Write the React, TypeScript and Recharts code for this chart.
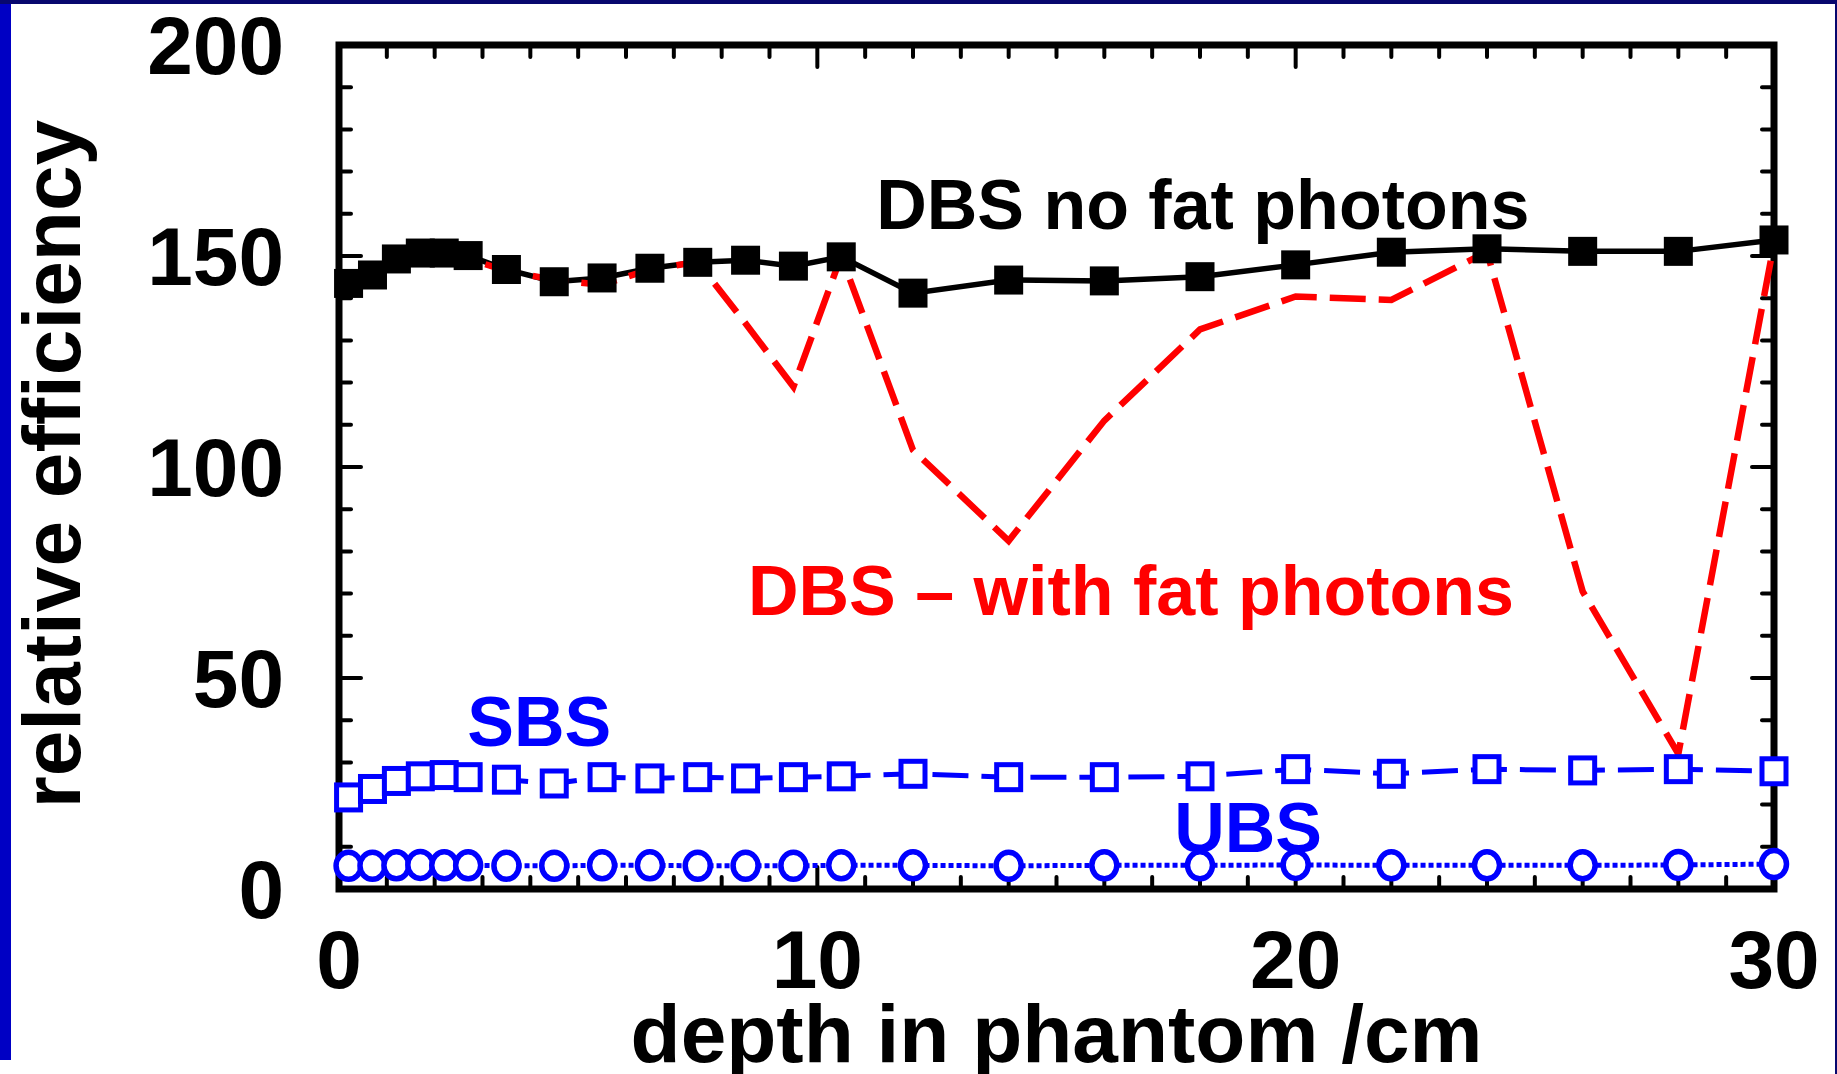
import React from 'react';
import { LineChart, Line, XAxis, YAxis, ReferenceArea, ReferenceLine, ReferenceDot, Label } from 'recharts';

const FONT = '"Liberation Sans", Arial, Helvetica, sans-serif';

// ---- data ----
const depth = [0.2, 0.7, 1.2, 1.7, 2.2, 2.7, 3.5, 4.5, 5.5, 6.5, 7.5, 8.5, 9.5, 10.5, 12, 14, 16, 18, 20, 22, 24, 26, 28, 30];
const dbsNoFat = [143.5, 145.5, 149.3, 150.7, 150.7, 150.1, 146.8, 143.9, 144.8, 147.1, 148.5, 149.0, 147.6, 149.8, 141.2, 144.3, 144.1, 145.1, 147.9, 150.9, 151.7, 151.1, 151.1, 153.8];
const dbsWithFat = [143.6, 146.0, 149.8, 151.5, 151.3, 149.3, 146.5, 144.3, 143.2, 146.8, 148.6, 134, 119, 150, 104, 82.5, 111, 132.6, 140.4, 139.6, 151.0, 70.5, 32, 153];
const sbs = [21.7, 23.7, 25.6, 26.7, 27.0, 26.5, 25.9, 25.0, 26.5, 26.2, 26.5, 26.2, 26.5, 26.7, 27.3, 26.5, 26.5, 26.7, 28.4, 27.3, 28.4, 28.1, 28.4, 27.9];
const ubs = [5.5, 5.5, 5.6, 5.7, 5.6, 5.6, 5.5, 5.5, 5.6, 5.6, 5.5, 5.5, 5.5, 5.6, 5.6, 5.5, 5.6, 5.6, 5.7, 5.6, 5.6, 5.6, 5.7, 5.9];

const xTicks = [0, 10, 20, 30];
const yTicks = [0, 50, 100, 150, 200];
const xMinorTicks = [1, 2, 3, 4, 5, 6, 7, 8, 9, 10, 11, 12, 13, 14, 15, 16, 17, 18, 19, 20, 21, 22, 23, 24, 25, 26, 27, 28, 29];
const yMinorTicks = [10, 20, 30, 40, 50, 60, 70, 80, 90, 100, 110, 120, 130, 140, 150, 160, 170, 180, 190];

const annotations = [
  { text: 'DBS no fat photons', x: 11.23, y: 156.4, color: '#000000' },
  { text: 'DBS \u2013 with fat photons', x: 8.55, y: 64.9, color: '#ff0000' },
  { text: 'SBS', x: 2.68, y: 33.9, color: '#0000ff' },
  { text: 'UBS', x: 17.46, y: 8.8, color: '#0000ff' },
];

// ---- layout ----
const W = 1837;
const H = 1074;
const M = { top: 45, right: 63, bottom: 0, left: 0 };
const Y_AXIS_W = 339;
const X_AXIS_H = 185;
const plotW = W - M.left - M.right - Y_AXIS_W;
const plotH = H - M.top - M.bottom - X_AXIS_H;
const X_MIN = 0, X_MAX = 30, Y_MIN = 0, Y_MAX = 200;
const xPerPx = (X_MAX - X_MIN) / plotW;
const yPerPx = (Y_MAX - Y_MIN) / plotH;
const MINOR_LEN = 12;
const MAJOR_LEN = 22;

const data = depth.map((d, i) => ({
  depth: d,
  dbsNoFat: dbsNoFat[i],
  dbsWithFat: dbsWithFat[i],
  sbs: sbs[i],
  ubs: ubs[i],
}));

const XTick = (props: any) => {
  const { x, y, payload } = props;
  return (
    <text x={x} y={y + 99} textAnchor="middle" fontSize={82} fontWeight="bold" fontFamily={FONT} fill="#000">
      {payload.value}
    </text>
  );
};

const YTick = (props: any) => {
  const { x, y, payload } = props;
  return (
    <text x={x - 55} y={y + 29} textAnchor="end" fontSize={82} fontWeight="bold" fontFamily={FONT} fill="#000">
      {payload.value}
    </text>
  );
};

const filledSquare = (p: any) => (
  <rect key={`fs-${p.index}`} x={p.cx - 14.5} y={p.cy - 14.5} width={29} height={29} fill="#000" />
);
const openSquare = (p: any) => (
  <rect key={`os-${p.index}`} x={p.cx - 12} y={p.cy - 12.5} width={24} height={25} fill="#fff" stroke="#0000ff" strokeWidth={5} />
);
const openCircle = (p: any) => (
  <ellipse key={`oc-${p.index}`} cx={p.cx} cy={p.cy} rx={12.5} ry={13.5} fill="#fff" stroke="#0000ff" strokeWidth={5.5} />
);

const tickLines = [
  ...xMinorTicks.flatMap((t) => {
    const len = (xTicks.includes(t) ? MAJOR_LEN : MINOR_LEN) * yPerPx;
    return [
      <ReferenceLine key={`xb${t}`} segment={[{ x: t, y: Y_MIN }, { x: t, y: Y_MIN + len }]} stroke="#000" strokeWidth={4} strokeLinecap="round" ifOverflow="visible" />,
      <ReferenceLine key={`xt${t}`} segment={[{ x: t, y: Y_MAX }, { x: t, y: Y_MAX - len }]} stroke="#000" strokeWidth={4} strokeLinecap="round" ifOverflow="visible" />,
    ];
  }),
  ...yMinorTicks.flatMap((t) => {
    const len = (yTicks.includes(t) ? MAJOR_LEN : MINOR_LEN) * xPerPx;
    return [
      <ReferenceLine key={`yl${t}`} segment={[{ x: X_MIN, y: t }, { x: X_MIN + len, y: t }]} stroke="#000" strokeWidth={4} strokeLinecap="round" ifOverflow="visible" />,
      <ReferenceLine key={`yr${t}`} segment={[{ x: X_MAX, y: t }, { x: X_MAX - len, y: t }]} stroke="#000" strokeWidth={4} strokeLinecap="round" ifOverflow="visible" />,
    ];
  }),
];

const annotationDots = annotations.map((a) => (
  <ReferenceDot
    key={a.text}
    x={a.x}
    y={a.y}
    r={0}
    fill="none"
    stroke="none"
    ifOverflow="visible"
    label={{
      content: (p: any) => (
        <text
          x={p.viewBox.x}
          y={p.viewBox.y}
          textAnchor="start"
          fontSize={70}
          fontWeight="bold"
          fontFamily={FONT}
          fill={a.color}
        >
          {a.text}
        </text>
      ),
    }}
  />
));

export default function App() {
  return (
    <div style={{ position: 'absolute', left: 0, top: 0, width: W, height: H, background: '#fff', overflow: 'hidden' }}>
      <div style={{ position: 'absolute', left: 0, top: 0, width: 11, height: 1060, background: '#0000c4' }} />
      <div style={{ position: 'absolute', left: 0, top: 0, width: W, height: 4, background: '#07076e' }} />
      <div style={{ position: 'absolute', left: W - 2, top: 0, width: 2, height: H, background: '#07076e' }} />
      <div style={{ position: 'absolute', left: 0, top: 0 }}>
        <LineChart width={W} height={H} data={data} margin={M}>
          <XAxis
            dataKey="depth"
            type="number"
            domain={[X_MIN, X_MAX]}
            ticks={xTicks}
            tick={<XTick />}
            tickLine={false}
            axisLine={false}
            tickSize={0}
            tickMargin={0}
            height={X_AXIS_H}
            interval={0}
          >
            <Label
              content={(p: any) => (
                <text
                  x={p.viewBox.x + p.viewBox.width / 2}
                  y={p.viewBox.y + 173}
                  textAnchor="middle"
                  fontSize={82}
                  fontWeight="bold"
                  fontFamily={FONT}
                  fill="#000"
                >
                  depth in phantom /cm
                </text>
              )}
            />
          </XAxis>
          <YAxis
            type="number"
            domain={[Y_MIN, Y_MAX]}
            ticks={yTicks}
            tick={<YTick />}
            tickLine={false}
            axisLine={false}
            tickSize={0}
            tickMargin={0}
            width={Y_AXIS_W}
            interval={0}
          >
            <Label
              content={(p: any) => {
                const cx = 80;
                const cy = p.viewBox.y + p.viewBox.height / 2 - 3;
                return (
                  <text
                    x={cx}
                    y={cy}
                    transform={`rotate(-90, ${cx}, ${cy})`}
                    textAnchor="middle"
                    fontSize={82}
                    fontWeight="bold"
                    fontFamily={FONT}
                    fill="#000"
                  >
                    relative efficiency
                  </text>
                );
              }}
            />
          </YAxis>
          <ReferenceArea x1={X_MIN} x2={X_MAX} y1={Y_MIN} y2={Y_MAX} fill="none" fillOpacity={0} stroke="#000" strokeWidth={7} ifOverflow="visible" />
          {tickLines}
          <Line dataKey="sbs" type="linear" stroke="#0000ff" strokeWidth={5} strokeDasharray="36 13" dot={openSquare} isAnimationActive={false} />
          <Line dataKey="ubs" type="linear" stroke="#0000ff" strokeWidth={5} strokeDasharray="5 3" dot={openCircle} isAnimationActive={false} />
          <Line dataKey="dbsNoFat" type="linear" stroke="#000" strokeWidth={5.5} dot={filledSquare} isAnimationActive={false} />
          <Line dataKey="dbsWithFat" type="linear" stroke="#ff0000" strokeWidth={6.5} strokeDasharray="36 13" dot={false} isAnimationActive={false} />
          {annotationDots}
        </LineChart>
      </div>
    </div>
  );
}
